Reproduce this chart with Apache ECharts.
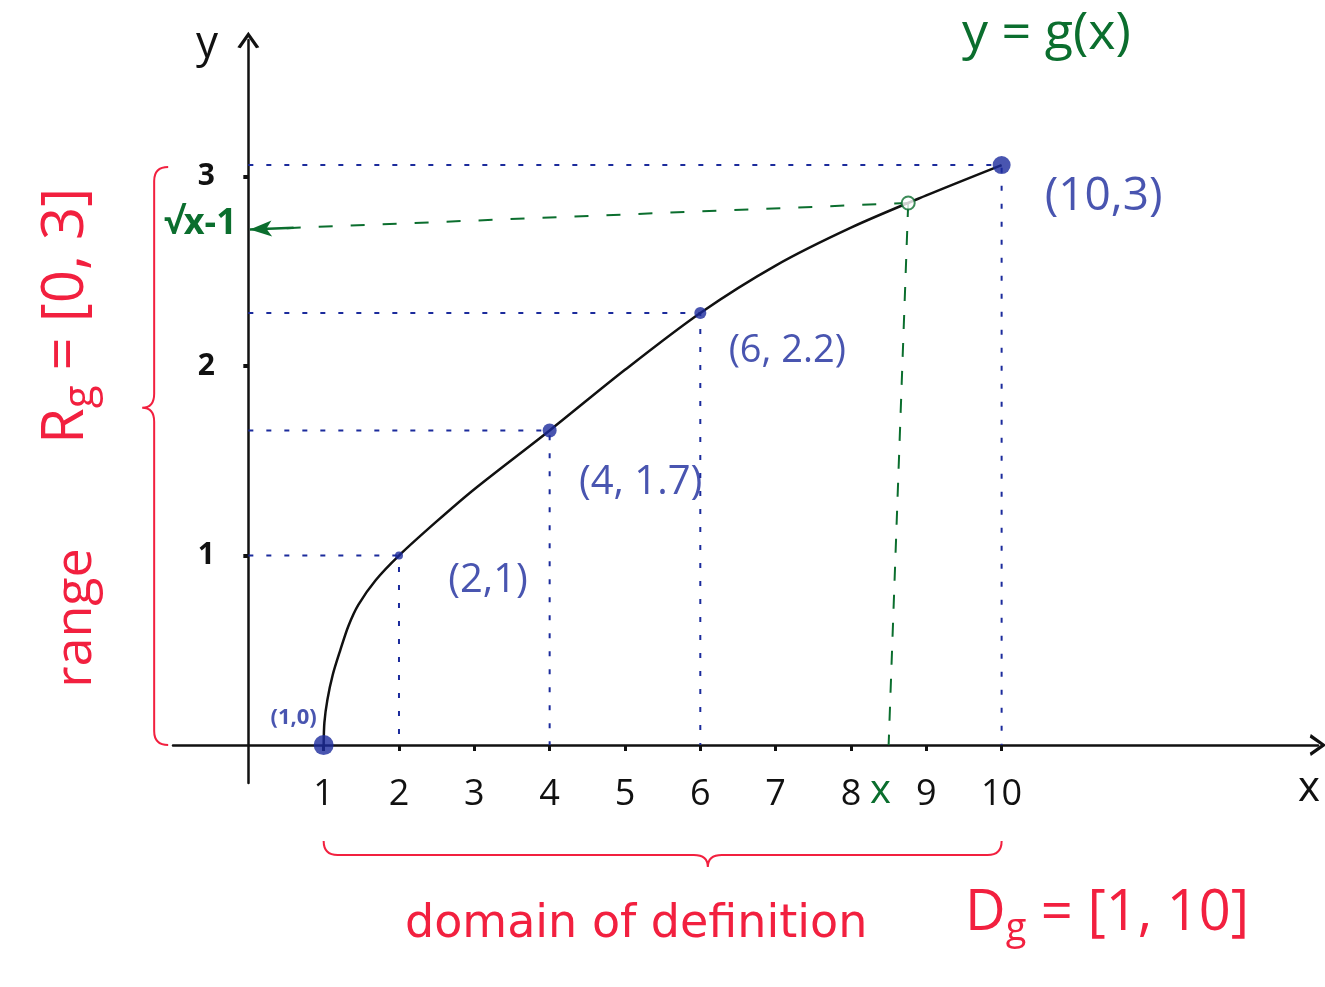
<!DOCTYPE html>
<html>
<head>
<meta charset="utf-8">
<script src="https://cdn.jsdelivr.net/npm/echarts@6/dist/echarts.min.js"></script>
<style>
  html, body { margin: 0; padding: 0; background: #fff; }
  #main { width: 1325px; height: 987px; }
</style>
</head>
<body>
<div id="main"></div>
<script>
var dom = document.getElementById('main');
var myChart = echarts.init(dom);

// curve y = g(x)
var curveX = [1, 1.01, 1.05, 1.12, 1.22, 1.33, 1.46, 1.69, 2, 2.5, 3, 4, 5, 6, 7, 8, 9, 10];
var curveY = [0, 0.12, 0.24, 0.37, 0.5, 0.63, 0.74, 0.87, 1, 1.18, 1.35, 1.66, 1.98, 2.28, 2.53, 2.73, 2.9, 3.06];

// tick labels
var xTicks = [1, 2, 3, 4, 5, 6, 7, 8, 9, 10];
var yTicks = [1, 2, 3];

// marked points and their captions
var pointX = [1, 2, 4, 6, 10];
var pointY = [0, 1, 1.66, 2.28, 3.06];
var pointText = ['(1,0)', '(2,1)', '(4, 1.7)', '(6, 2.2)', '(10,3)'];

// the generic point x -> sqrt(x-1)
var genX = 8.76, genY = 2.86;
var genFootX = 8.5, genArrowY = 2.72;

// braces: [pos, from, to, tip]
var rangeBrace = [-1.25, 0, 3.05, 1.78];
var domainBrace = [-0.58, 1, 10, 6.1];

var BLUE = '#1b2b9c', GREEN = '#0b6e2e', RED = '#f2203f', INK = '#111';
var FONT = 'Open Sans';

var labelOffsets = [[-30, -27], [89, 25], [91, 52], [87, 38], [102, 32]];
var labelSizes = [22, 40, 40, 38, 46];
var dotSizes = [20, 8, 14, 12, 18];

var curveData = curveX.map(function (x, i) { return [x, curveY[i]]; });

var pointData = pointX.map(function (x, i) {
  return {
    value: [x, pointY[i]],
    symbolSize: dotSizes[i],
    label: {
      show: true,
      formatter: pointText[i],
      position: 'inside',
      offset: labelOffsets[i],
      fontSize: labelSizes[i],
      fontFamily: FONT,
      fontWeight: i === 0 ? 'bold' : 'normal',
      color: BLUE
    }
  };
});

var guideSeries = [];
for (var i = 1; i < pointX.length; i++) {
  guideSeries.push({
    type: 'line',
    silent: true,
    symbol: 'none',
    z: 1,
    lineStyle: { color: BLUE, width: 2, type: [5, 13] },
    data: [[0, pointY[i]], [pointX[i], pointY[i]], [pointX[i], 0]]
  });
}

function braceItem(params, api) {
  var vertical = params.seriesName === 'range';
  var pos = api.value(0), a = api.value(1), b = api.value(2), t = api.value(3);
  var p1, p2, pt, d;
  var r = 14, tip = 12;
  if (vertical) {
    p1 = api.coord([pos, b]); p2 = api.coord([pos, a]); pt = api.coord([pos, t]);
    var x = p1[0];
    d = 'M' + (x + r) + ',' + p1[1] +
      ' Q' + x + ',' + p1[1] + ' ' + x + ',' + (p1[1] + r) +
      ' L' + x + ',' + (pt[1] - r) +
      ' Q' + x + ',' + pt[1] + ' ' + (x - tip) + ',' + pt[1] +
      ' Q' + x + ',' + pt[1] + ' ' + x + ',' + (pt[1] + r) +
      ' L' + x + ',' + (p2[1] - r) +
      ' Q' + x + ',' + p2[1] + ' ' + (x + r) + ',' + p2[1];
  } else {
    p1 = api.coord([a, pos]); p2 = api.coord([b, pos]); pt = api.coord([t, pos]);
    var y = p1[1];
    d = 'M' + p1[0] + ',' + (y - r) +
      ' Q' + p1[0] + ',' + y + ' ' + (p1[0] + r) + ',' + y +
      ' L' + (pt[0] - r) + ',' + y +
      ' Q' + pt[0] + ',' + y + ' ' + pt[0] + ',' + (y + tip) +
      ' Q' + pt[0] + ',' + y + ' ' + (pt[0] + r) + ',' + y +
      ' L' + (p2[0] - r) + ',' + y +
      ' Q' + p2[0] + ',' + y + ' ' + p2[0] + ',' + (y - r);
  }
  return {
    type: 'path',
    shape: { pathData: d },
    style: { fill: 'none', stroke: RED, lineWidth: 2 }
  };
}

var arrowHead = 'path://M0,14 L10,0 L20,14 L17,15 L10,5 L3,15 Z';

var option = {
  animation: false,
  backgroundColor: '#fff',
  grid: { left: 173, right: 7, top: 40, bottom: 204 },
  xAxis: {
    type: 'value',
    min: -1,
    max: 14.2,
    splitLine: { show: false },
    axisLine: {
      onZero: true,
      symbol: ['none', arrowHead],
      symbolSize: [22, 26],
      lineStyle: { color: INK, width: 2.5 }
    },
    axisTick: { customValues: xTicks, length: 6, lineStyle: { color: INK, width: 3 } },
    axisLabel: {
      customValues: xTicks,
      margin: -6,
      fontSize: 36,
      fontFamily: FONT,
      color: INK
    }
  },
  yAxis: {
    type: 'value',
    min: -0.2,
    max: 3.72,
    splitLine: { show: false },
    axisLine: {
      onZero: true,
      symbol: ['none', arrowHead],
      symbolSize: [22, 26],
      lineStyle: { color: INK, width: 2.5 }
    },
    axisTick: { customValues: yTicks, length: 5, lineStyle: { color: INK, width: 4 } },
    axisLabel: {
      customValues: yTicks,
      margin: -42,
      fontSize: 30,
      fontWeight: 'bold',
      fontFamily: FONT,
      color: INK
    }
  },
  graphic: [
    { type: 'text', left: 196, top: 22, style: { text: 'y', fontSize: 44, fontFamily: FONT, fill: INK } },
    { type: 'text', left: 1298, top: 768, style: { text: 'x', fontSize: 42, fontFamily: FONT, fill: INK } },
    { type: 'text', left: 962, top: 8, style: { text: 'y = g(x)', fontSize: 52, fontFamily: FONT, fill: GREEN } },
    { type: 'text', left: 870, top: 772, style: { text: 'x', fontSize: 40, fontFamily: FONT, fill: GREEN } },
    { type: 'text', left: 164, top: 206, style: { text: '√x-1', fontSize: 36, fontFamily: FONT, fontWeight: 'bold', fill: GREEN } },
    { type: 'text', left: 405, top: 902, style: { text: 'domain of definition', fontSize: 46, fontFamily: 'DejaVu Sans', fill: RED } },
    {
      type: 'text', left: 965, top: 886,
      style: {
        text: '{a|D}{s|g}{a| = [1, 10]}',
        fontFamily: FONT, fill: RED,
        rich: {
          a: { fontSize: 56, fontFamily: FONT, fill: RED },
          s: { fontSize: 38, fontFamily: FONT, fill: RED, padding: [30, 0, 0, 0] }
        }
      }
    },
    {
      type: 'text', x: 76, y: 618, rotation: Math.PI / 2,
      style: { text: 'range', fontSize: 52, fontFamily: FONT, fill: RED, align: 'center', verticalAlign: 'middle' }
    },
    {
      type: 'text', x: 66, y: 316, rotation: Math.PI / 2,
      style: {
        text: '{a|R}{s|g}{a| = [0, 3]}',
        align: 'center', verticalAlign: 'middle', fill: RED,
        rich: {
          a: { fontSize: 58, fontFamily: FONT, fill: RED },
          s: { fontSize: 42, fontFamily: FONT, fill: RED, padding: [30, 0, 0, 0] }
        }
      }
    }
  ],
  series: guideSeries.concat([
    {
      name: 'range',
      type: 'custom',
      silent: true,
      renderItem: braceItem,
      data: [rangeBrace]
    },
    {
      name: 'domain',
      type: 'custom',
      silent: true,
      renderItem: braceItem,
      data: [domainBrace]
    },
    {
      type: 'line',
      silent: true,
      symbol: 'none',
      z: 1,
      lineStyle: { color: GREEN, width: 2, type: [14, 14] },
      data: [[genX, genY], [genFootX, 0]]
    },
    {
      type: 'line',
      silent: true,
      symbol: 'none',
      z: 1,
      lineStyle: { color: GREEN, width: 2, type: [14, 18] },
      data: [[genX, genY], [0.05, genArrowY]],
      markLine: {
        silent: true,
        symbol: ['none', 'arrow'],
        symbolSize: [12, 22],
        label: { show: false },
        lineStyle: { color: GREEN, width: 2.5, type: 'solid' },
        data: [[{ coord: [0.6, genArrowY + 0.01] }, { coord: [0.02, genArrowY] }]]
      }
    },
    {
      name: 'g',
      type: 'line',
      smooth: 0.3,
      symbol: 'none',
      z: 3,
      lineStyle: { color: INK, width: 2.5 },
      data: curveData
    },
    {
      type: 'scatter',
      z: 4,
      itemStyle: { color: BLUE },
      data: pointData
    },
    {
      type: 'scatter',
      z: 4,
      symbol: 'emptyCircle',
      symbolSize: 13,
      itemStyle: { color: GREEN, borderColor: GREEN, borderWidth: 2 },
      data: [[genX, genY]]
    }
  ])
};

myChart.setOption(option);
</script>
</body>
</html>
